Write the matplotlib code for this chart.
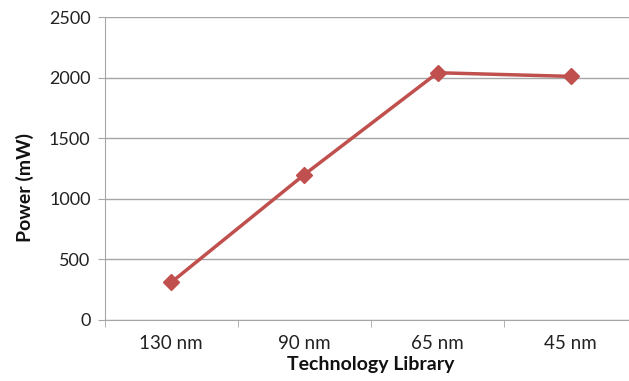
import matplotlib
matplotlib.use("Agg")
import matplotlib.pyplot as plt

categories = ["130 nm", "90 nm", "65 nm", "45 nm"]
power_mw = [310, 1200, 2040, 2010]
y_ticks = [0, 500, 1000, 1500, 2000, 2500]

plt.rcParams['font.family'] = ['Lato', 'DejaVu Sans']

fig = plt.figure(figsize=(6.29, 3.81), dpi=100)
W, H = 629, 381
left, right, top, bottom = 104.5, 637.5, 17, 320
ax = fig.add_axes([left / W, 1 - bottom / H, (right - left) / W, (bottom - top) / H])

x = list(range(len(categories)))
ax.plot(x, power_mw, color="#C0504D", linewidth=2.5, marker="D", markersize=8,
        markerfacecolor="#C0504D", markeredgecolor="#C0504D", zorder=3, clip_on=False)

ax.set_xlim(-0.5, len(categories) - 0.5)
ax.set_ylim(0, 2500)
ax.set_yticks(y_ticks)
ax.set_yticklabels([str(v) for v in y_ticks])
ax.set_xticks(x)
ax.set_xticklabels(categories)
ax.set_xticks([i + 0.5 for i in range(-1, len(categories))], minor=True)

ax.grid(axis='y', color="#A6A6A6", linewidth=1)
ax.set_axisbelow(True)
for s in ["top", "right"]:
    ax.spines[s].set_visible(False)
for s in ["left", "bottom"]:
    ax.spines[s].set_color("#A6A6A6")
ax.tick_params(axis='x', which='major', length=0, pad=11, labelsize=13.5, colors="#222222")
ax.tick_params(axis='x', which='minor', length=5, color="#A6A6A6", direction='out')
ax.tick_params(axis='y', length=5, color="#A6A6A6", labelsize=13, colors="#222222", pad=5)

ax.set_xlabel("Technology Library", fontsize=14, fontweight='bold', labelpad=3, color="#111111")
ax.set_ylabel("Power (mW)", fontsize=14, fontweight='bold', color="#111111")
ax.yaxis.set_label_coords(-(104.5 - 34) / (right - left), 1 - (187 - top) / (bottom - top))

fig.savefig("out.png", dpi=100)
